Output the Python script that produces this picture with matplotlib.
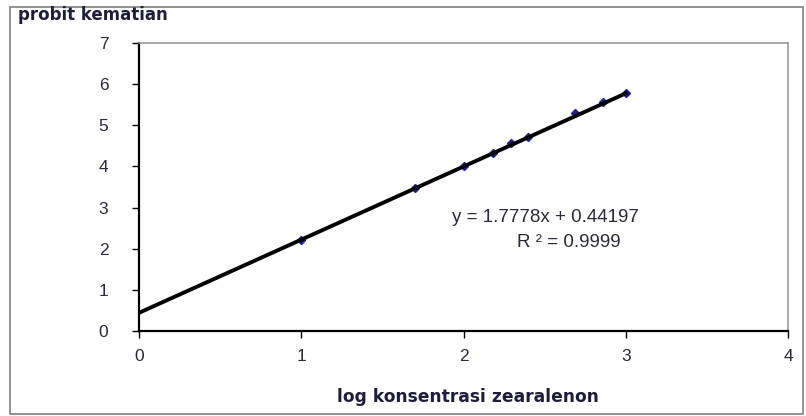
import matplotlib.pyplot as plt
from matplotlib.patches import Rectangle

plt.rcParams['font.family'] = ['Liberation Sans', 'DejaVu Sans']

# data
log_conc = [1.0, 1.7, 2.0, 2.18, 2.29, 2.4, 2.69, 2.86, 3.0]
probit = [2.21, 3.47, 4.01, 4.33, 4.56, 4.71, 5.29, 5.56, 5.78]
slope = 1.7778
intercept = 0.44197
fit_x = [0, 3]

fig = plt.figure(figsize=(8.06, 4.16), dpi=100)
ax = fig.add_axes([139 / 806, 1 - 331 / 416, (788 - 139) / 806, (331 - 43) / 416])

ax.plot(log_conc, probit, linestyle='none', marker='D', markersize=4,
        color='#1f1f8f', zorder=2)
ax.plot(fit_x, [slope * v + intercept for v in fit_x], color='black', lw=2.8,
        zorder=3)

ax.set_xlim(0, 4)
ax.set_ylim(0, 7)
ax.set_xticks(range(0, 5))
ax.set_yticks(range(0, 8))
ax.tick_params(direction='out', length=5, width=1, labelsize=12.5,
               colors='black', labelcolor='#2a2a3a')
ax.tick_params(axis='y', pad=17)
ax.tick_params(axis='x', pad=8)
for s in ['left', 'bottom']:
    ax.spines[s].set_color('black')
    ax.spines[s].set_linewidth(1.6)
for s in ['top', 'right']:
    ax.spines[s].set_color('#9a9a9a')
    ax.spines[s].set_linewidth(1.2)

ax.text(452 / 806, 1 - 218 / 416, 'y = 1.7778x + 0.44197', transform=fig.transFigure,
        fontsize=13.5, va='center', ha='left', color='#2a2a3a')
ax.text(517 / 806, 1 - 242 / 416, 'R ² = 0.9999', transform=fig.transFigure,
        fontsize=13.5, va='center', ha='left', color='#2a2a3a')

fig.text(18 / 806, 1 - 15 / 416, 'probit kematian', fontsize=12,
         family='DejaVu Sans', fontweight='bold', va='center', ha='left',
         color='#1e1e3c')
fig.text(337 / 806, 1 - 397 / 416, 'log konsentrasi zearalenon', fontsize=12.3,
         family='DejaVu Sans', fontweight='bold', va='center', ha='left',
         color='#1e1e3c')

fig.patches.append(Rectangle((10 / 806, 1 - 414 / 416), 793 / 806, 407 / 416,
                             transform=fig.transFigure, fill=False,
                             edgecolor='#7f7f7f', lw=1.2))

fig.savefig('out.png', dpi=100)
